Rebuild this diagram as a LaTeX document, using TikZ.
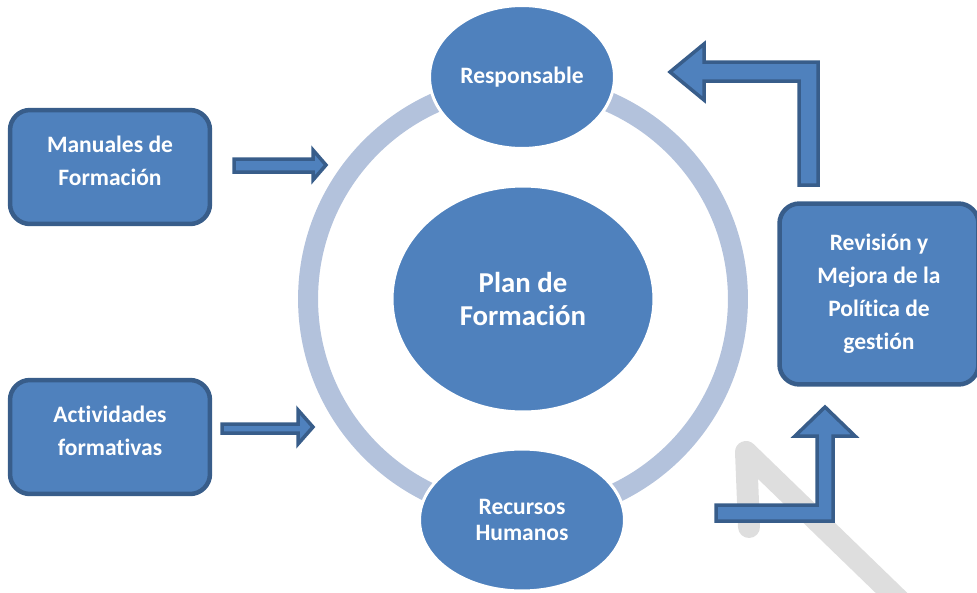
\documentclass[tikz,border=0pt]{standalone}
\usepackage{fontspec}
\setmainfont{Carlito}[Ligatures=NoCommon]
\usetikzlibrary{shapes.geometric}
\definecolor{mainblue}{HTML}{4F81BD}
\definecolor{edgeblue}{HTML}{385D8A}
\definecolor{ringblue}{HTML}{B3C2DC}
\definecolor{markgrey}{HTML}{DEDEDE}

\begin{document}
\begin{tikzpicture}[x=0.02cm, y=-0.02cm]

\tikzset{box/.style = {shape=rectangle, rounded corners=0.4cm, draw=edgeblue, line width=0.09cm, fill=mainblue, text=white, align=center, inner sep=0pt, minimum width=4cm, minimum height=2.28cm, font=\fontsize{13.4}{19.3}\selectfont\bfseries}}
\tikzset{sidebox/.style = {box, text depth=0.25cm}}
\tikzset{oval/.style = {shape=ellipse, draw=white, line width=0.06cm, fill=mainblue, text=white, align=center, inner sep=0pt, font=\fontsize{13.4}{14.5}\selectfont\bfseries}}
\tikzset{blockarrow/.style = {draw=edgeblue, line width=0.07cm, fill=mainblue, line join=miter}}
\tikzset{ring/.style = {draw=ringblue, line width=0.4cm}}
\tikzset{watermark/.style = {draw=markgrey, line width=0.44cm, line cap=round, line join=round}}

\useasboundingbox (0,0) rectangle (977,592);

%background
\draw[watermark] (749,527) -- (746,452) -- (905,606);
\coordinate (hub) at (523,299);
\draw[ring] (hub) circle [radius=4.3cm];

%cycle
\node[oval, minimum width=5.24cm, minimum height=4.52cm, font=\fontsize{16.4}{18.7}\selectfont\bfseries] (plan) at (hub) {Plan de\\Formación};
\node[oval, minimum width=3.7cm, minimum height=2.86cm] (resp) at (522,77) {Responsable};
\node[oval, minimum width=4.1cm, minimum height=2.84cm] (rrhh) at (522,520) {Recursos\\Humanos};

%boxes
\node[sidebox] (manual) at (110,167) {Manuales de\\Formación};
\node[sidebox] (activ) at (110,437) {Actividades\\formativas};
\node[box, minimum width=3.98cm, minimum height=3.62cm, font=\fontsize{13.4}{18.7}\selectfont\bfseries] (revis) at (879,294) {Revisión y\\Mejora de la\\Política de\\gestión};

%arrows
\draw[blockarrow] (234,159) -- (313,159) -- (313,150) -- (326,165) -- (313,180) -- (313,172) -- (234,172) -- cycle;
\draw[blockarrow] (222,424) -- (298,424) -- (298,410) -- (313,427) -- (298,444) -- (298,433) -- (222,433) -- cycle;
\draw[blockarrow] (799,185) -- (818,185) -- (818,62) -- (704,62) -- (704,44) -- (670,72) -- (704,100) -- (704,81) -- (799,81) -- cycle;
\draw[blockarrow] (716,505) -- (817,505) -- (817,436) -- (795,436) -- (825,407) -- (855,436) -- (833,436) -- (833,521) -- (716,521) -- cycle;

\end{tikzpicture}
\end{document}
